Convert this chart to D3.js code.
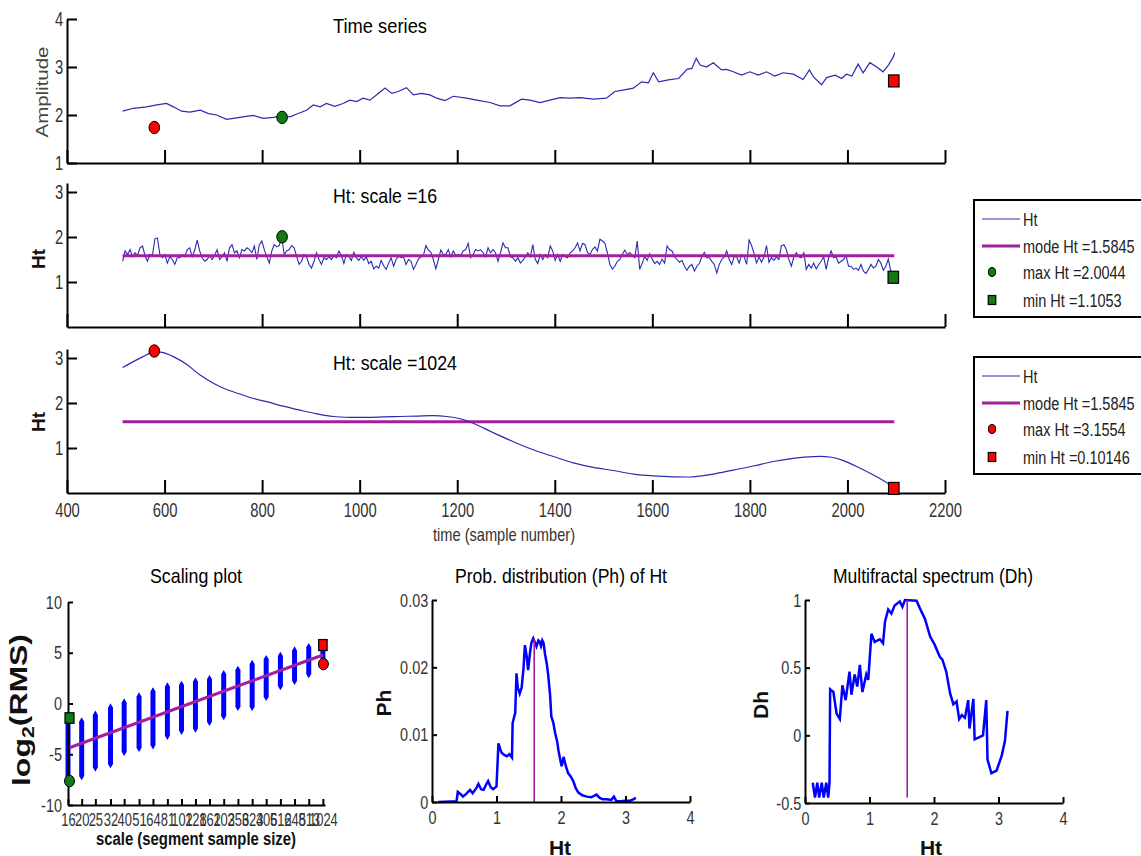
<!DOCTYPE html>
<html>
<head>
<meta charset="utf-8">
<script src="https://cdn.jsdelivr.net/npm/d3@7"></script>
<style>
body { margin: 0; background: #fff; }
svg { display: block; }
</style>
</head>
<body>
<svg id="fig" width="1141" height="856"></svg>
<script>
// ---- data ----
var timeTicks = [400, 600, 800, 1000, 1200, 1400, 1600, 1800, 2000, 2200];

// [sample, amplitude]
var timeSeries = [[514,2.08],[536,2.14],[563,2.17],[584,2.21],[604,2.24],[618,2.17],[635,2.08],[652,2.06],[673,2.10],[690,2.03],
  [707,2.00],[727,1.91],[741,1.93],[761,1.96],[782,1.99],[802,1.93],[823,1.95],[840,1.98],[857,1.96],[874,2.03],
  [891,2.10],[905,2.21],[919,2.17],[932,2.24],[949,2.18],[966,2.24],[980,2.31],[994,2.28],[1007,2.35],[1021,2.31],
  [1035,2.42],[1052,2.56],[1066,2.45],[1079,2.49],[1096,2.57],[1110,2.42],[1127,2.45],[1144,2.42],[1158,2.35],[1175,2.30],
  [1192,2.39],[1219,2.35],[1240,2.31],[1267,2.26],[1288,2.19],[1308,2.19],[1332,2.33],[1349,2.31],[1370,2.26],[1390,2.31],
  [1411,2.36],[1431,2.35],[1452,2.36],[1479,2.33],[1506,2.35],[1523,2.49],[1540,2.52],[1561,2.56],[1578,2.69],[1592,2.67],
  [1602,2.88],[1613,2.69],[1633,2.73],[1654,2.76],[1671,2.95],[1681,2.97],[1690,3.18],[1698,3.04],[1711,3.00],[1725,3.09],
  [1742,2.94],[1752,2.95],[1766,2.90],[1783,2.83],[1800,2.90],[1817,2.83],[1834,2.90],[1851,2.81],[1868,2.88],[1889,2.85],
  [1909,2.74],[1922,2.94],[1930,2.80],[1947,2.63],[1957,2.78],[1975,2.83],[1988,2.76],[1998,2.85],[2009,2.81],[2022,3.06],
  [2032,2.88],[2046,3.09],[2060,3.00],[2073,2.90],[2084,3.04],[2094,3.21],[2097,3.30]];
var tsRedCircle = [579, 1.74];
var tsGreenCircle = [841, 1.95];
var tsRedSquare = [2095, 2.71];

// Ht at scale 16, regular sampling from ht16Start to ht16End
var ht16Start = 514, ht16End = 2094;
var ht16 = [1.46,1.69,1.61,1.72,1.56,1.65,1.59,1.76,1.80,1.59, 1.46,1.61,1.59,1.96,1.98,1.61,1.54,1.61,1.42,1.56,
  1.50,1.39,1.54,1.54,1.61,1.56,1.72,1.76,1.56,1.71, 1.93,1.69,1.54,1.46,1.50,1.59,1.50,1.59,1.72,1.50,
  1.56,1.65,1.46,1.76,1.83,1.65,1.69,1.54,1.72,1.69, 1.76,1.72,1.65,1.80,1.50,1.83,1.91,1.72,1.56,1.42,
  1.69,1.83,1.78,1.81,2.00,1.61,1.69,1.72,1.81,1.76, 1.57,1.39,1.46,1.61,1.56,1.39,1.31,1.46,1.65,1.50,
  1.39,1.54,1.50,1.56,1.50,1.59,1.54,1.69,1.59,1.41, 1.61,1.56,1.48,1.66,1.54,1.48,1.56,1.48,1.56,1.41,
  1.46,1.29,1.35,1.31,1.48,1.36,1.28,1.42,1.54,1.35, 1.50,1.57,1.54,1.56,1.39,1.50,1.46,1.28,1.39,1.51,
  1.56,1.59,1.81,1.71,1.66,1.50,1.29,1.50,1.71,1.61, 1.61,1.72,1.56,1.69,1.59,1.61,
  1.59,1.69,1.72,1.86,1.54,1.61,1.72,1.69,1.72,1.65, 1.56,1.76,1.65,1.72,1.65,1.46,1.65,1.87,1.76,1.76,
  1.56,1.54,1.46,1.54,1.42,1.48,1.56,1.65,1.56,1.83, 1.50,1.41,1.61,1.50,1.61,1.54,1.80,1.69,1.48,1.61,
  1.46,1.61,1.56,1.54,1.65,1.69,1.76,1.87,1.69,1.86, 1.83,1.65,1.61,1.72,1.78,1.69,1.95,1.91,1.86,1.65,
  1.39,1.29,1.35,1.46,1.50,1.61,1.71,1.61,1.65,1.59, 1.54,1.91,1.28,1.42,1.56,1.48,1.63,1.51,1.41,1.46,
  1.39,1.51,1.42,1.80,1.72,1.69,1.56,1.50,1.44,1.48, 1.35,1.26,1.35,1.39,1.24,1.35,1.41,1.57,1.66,1.54,
  1.54,1.46,1.39,1.20,1.39,1.50,1.56,1.69,1.50,1.39, 1.57,1.56,1.42,1.61,1.56,1.39,1.93,1.81,1.63,1.42,
  1.56,1.44,1.56,1.81,1.44,1.54,1.48,1.56,1.50,1.81, 1.83,1.72,1.50,1.35,1.56,1.65,1.56,1.54,1.65,1.28,
  1.39,1.31,1.42,1.29,1.39,1.46,1.56,1.28,1.54,1.69, 1.54,1.56,1.42,1.46,1.50,1.59,1.35,1.35,1.28,1.31,
  1.26,1.39,1.24,1.19,1.28,1.39,1.31,1.35,1.50,1.42, 1.26,1.35,1.51,1.24,1.11];
var htMode = 1.5845;
var ht16Max = [841, 2.0044];
var ht16Min = [2094, 1.1053];

// Ht at scale 1024, [sample, Ht]
var ht1024 = [[514,2.79],[536,2.92],[556,3.03],[579,3.14],[597,3.12],[618,3.03],[645,2.86],[673,2.62],[700,2.44],[727,2.30],
  [755,2.20],[782,2.10],[809,2.03],[843,1.93],[878,1.84],[912,1.76],[946,1.70],[980,1.68],[1014,1.68],[1049,1.69],
  [1083,1.70],[1117,1.71],[1151,1.72],[1178,1.70],[1206,1.65],[1233,1.55],[1274,1.34],[1315,1.14],[1356,0.96],[1397,0.81],
  [1438,0.67],[1479,0.57],[1520,0.50],[1561,0.42],[1602,0.38],[1643,0.36],[1684,0.36],[1725,0.42],[1766,0.51],[1807,0.60],
  [1848,0.70],[1889,0.77],[1930,0.81],[1964,0.80],[1992,0.72],[2026,0.55],[2060,0.36],[2087,0.18],[2095,0.10]];
var ht1024Max = [579, 3.1554];
var ht1024Min = [2095, 0.10146];

var legend1Labels = ["Ht", "mode Ht =1.5845", "max Ht =2.0044", "min Ht =1.1053"];
var legend2Labels = ["Ht", "mode Ht =1.5845", "max Ht =3.1554", "min Ht =0.10146"];

// scaling plot
var scales = [16, 20, 25, 32, 40, 51, 64, 81, 102, 128, 161, 203, 256, 323, 406, 512, 645, 813, 1024];
var rmsLow  = [-7.70, -7.14, -6.29, -5.96, -4.75, -4.35, -4.09, -3.16, -2.67, -2.44, -1.79, -1.23, -0.31, -0.31, 0.67, 1.73, 2.25, 2.91, 3.89];
var rmsHigh = [-1.30, -1.79, -1.13, -0.41, 0.08, 0.67, 1.17, 1.66, 1.82, 2.15, 2.38, 2.87, 3.30, 3.89, 4.35, 4.68, 5.20, 5.53, 5.76];
var fitLine = [[16, -4.41], [1024, 4.78]];
var rmsGreenSquare = [16, -1.43], rmsGreenCircle = [16, -7.64];
var rmsRedSquare = [1024, 5.76], rmsRedCircle = [1024, 3.89];

// probability distribution Ph(Ht)
var ph = [[0.10,0],[0.38,0.0001],[0.40,0.0015],[0.44,0.0012],[0.48,0.0008],[0.53,0.0012],[0.59,0.0018],[0.63,0.0013],[0.69,0.0021],[0.72,0.0027],
  [0.76,0.0019],[0.80,0.0018],[0.84,0.0026],[0.87,0.0031],[0.91,0.0022],[0.95,0.0019],[1.00,0.0023],[1.03,0.0087],[1.06,0.0078],[1.08,0.0073],
  [1.12,0.0070],[1.16,0.0068],[1.20,0.0071],[1.24,0.0066],[1.25,0.0117],[1.27,0.0125],[1.29,0.0132],[1.31,0.0191],[1.33,0.0170],[1.36,0.0161],
  [1.39,0.0170],[1.42,0.0200],[1.44,0.0233],[1.47,0.0215],[1.49,0.0196],[1.52,0.0222],[1.54,0.0236],[1.57,0.0243],[1.60,0.0236],[1.62,0.0231],
  [1.65,0.0240],[1.67,0.0238],[1.69,0.0232],[1.71,0.0240],[1.73,0.0236],[1.75,0.0221],[1.78,0.0205],[1.80,0.0190],[1.83,0.0160],[1.85,0.0127],
  [1.88,0.0118],[1.91,0.0102],[1.94,0.0090],[1.96,0.0077],[1.99,0.0062],[2.01,0.0053],[2.04,0.0067],[2.07,0.0055],[2.11,0.0043],[2.15,0.0038],
  [2.19,0.0031],[2.23,0.0020],[2.27,0.0014],[2.33,0.0010],[2.40,0.0008],[2.47,0.0007],[2.55,0.0011],[2.60,0.0006],[2.65,0.0004],[2.71,0.0004],
  [2.78,0.0003],[2.82,0.0008],[2.86,0.0001],[2.92,0.0001],[3.00,0.0002],[3.07,0.0002],[3.12,0.0004],[3.16,0.0006]];
var phModeTop = 0.0243;

// multifractal spectrum Dh(Ht)
var dh = [[0.12,-0.35],[0.155,-0.46],[0.19,-0.35],[0.22,-0.46],[0.26,-0.35],[0.29,-0.46],[0.33,-0.35],[0.36,-0.46],[0.38,-0.35],[0.39,0.34],
  [0.44,0.32],[0.49,0.16],[0.54,0.12],[0.58,0.37],[0.63,0.26],[0.69,0.47],[0.72,0.30],[0.77,0.45],[0.81,0.36],[0.85,0.52],
  [0.89,0.32],[0.95,0.45],[0.98,0.41],[1.03,0.75],[1.08,0.69],[1.16,0.71],[1.21,0.68],[1.24,0.84],[1.29,0.93],[1.34,0.90],
  [1.39,0.96],[1.47,0.99],[1.51,0.95],[1.55,1.0],[1.73,0.995],[1.78,0.94],[1.86,0.86],[1.94,0.73],[2.01,0.67],[2.09,0.58],
  [2.13,0.56],[2.19,0.47],[2.25,0.31],[2.30,0.23],[2.35,0.25],[2.39,0.12],[2.43,0.15],[2.48,0.13],[2.53,0.26],[2.55,0.05],
  [2.61,0.27],[2.63,-0.03],[2.76,0.0],[2.81,0.26],[2.83,-0.18],[2.89,-0.28],[2.97,-0.26],[3.05,-0.15],[3.10,-0.04],[3.14,0.18]];
var dhModeRange = [-0.46, 1];

// ---- drawing ----
var FONT = "'Liberation Sans', Arial, sans-serif";
var BLUE_THIN = "#2b2bb0", BLUE = "#0000ff", MAGENTA = "#a020a0";
var RED = "#ff0000", GREEN = "#117a11";
var svg = d3.select("#fig");

// text helper: position, optional rotation and horizontal squeeze
function label(x, y, str, o) {
  o = o || {};
  var g = svg.append("g")
    .attr("transform", "translate(" + x + "," + y + ") rotate(" + (o.rotate || 0) + ") scale(" + (o.sx || 1) + ",1)");
  var t = g.append("text")
    .attr("font-family", FONT)
    .attr("font-size", o.size || 20)
    .attr("font-weight", o.weight || "normal")
    .attr("fill", o.fill || "#000")
    .attr("text-anchor", o.anchor || "middle")
    .attr("dy", o.dy || 0)
    .text(str);
  if (o.len) t.attr("textLength", o.len).attr("lengthAdjust", "spacingAndGlyphs");
  return t;
}

function styleAxis(g, size, sx) {
  g.attr("font-family", FONT).attr("font-size", size);
  g.select(".domain").attr("stroke", "#000").attr("stroke-width", 2);
  g.selectAll(".tick line").attr("stroke", "#000").attr("stroke-width", 2);
  g.selectAll(".tick text").attr("fill", "#333").attr("transform", "scale(" + sx + ",1)");
}

function circleMark(x, y, fill, rx, ry) {
  svg.append("ellipse").attr("cx", x).attr("cy", y).attr("rx", rx || 5.3).attr("ry", ry || 6.2)
    .attr("fill", fill).attr("stroke", "#000").attr("stroke-width", 1);
}
function squareMark(x, y, fill, w, h) {
  w = w || 10.5; h = h || 12;
  svg.append("rect").attr("x", x - w / 2).attr("y", y - h / 2).attr("width", w).attr("height", h)
    .attr("fill", fill).attr("stroke", "#000").attr("stroke-width", 1.2);
}

var xT = d3.scaleLinear().domain([400, 2200]).range([67, 945]);

function topPanel(yDomain, yRange, yTicks, showLabels) {
  var y = d3.scaleLinear().domain(yDomain).range(yRange);
  var gx = svg.append("g").attr("transform", "translate(0," + yRange[0] + ")")
    .call(d3.axisBottom(xT).tickValues(timeTicks).tickSizeInner(-13).tickSizeOuter(0).tickPadding(10)
      .tickFormat(showLabels ? d3.format("d") : function() { return ""; }));
  styleAxis(gx, 20, 0.74);
  var gy = svg.append("g").attr("transform", "translate(67,0)")
    .call(d3.axisLeft(y).tickValues(yTicks).tickSizeInner(-10).tickSizeOuter(0).tickPadding(5).tickFormat(d3.format("d")));
  styleAxis(gy, 20, 0.74);
  return y;
}

// panel 1: time series
var y1 = topPanel([1, 4], [163, 19], [1, 2, 3, 4], false);
svg.append("path").datum(timeSeries)
  .attr("fill", "none").attr("stroke", BLUE_THIN).attr("stroke-width", 1.2)
  .attr("d", d3.line().x(function(d) { return xT(d[0]); }).y(function(d) { return y1(d[1]); }));
circleMark(xT(tsRedCircle[0]), y1(tsRedCircle[1]), RED);
circleMark(xT(tsGreenCircle[0]), y1(tsGreenCircle[1]), GREEN);
squareMark(xT(tsRedSquare[0]), y1(tsRedSquare[1]), RED);
label(333, 33, "Time series", { anchor: "start", size: 21, len: 94 });
label(42, 92, "Amplitude", { rotate: -90, size: 16, len: 91, fill: "#444", dy: "0.35em" });

// panel 2: Ht scale 16
var y2 = topPanel([0, 3.2], [327, 183], [1, 2, 3], false);
var ht16Points = ht16.map(function(v, i) {
  return [ht16Start + i * (ht16End - ht16Start) / (ht16.length - 1), v];
});
svg.append("path").datum(ht16Points)
  .attr("fill", "none").attr("stroke", BLUE_THIN).attr("stroke-width", 1.1)
  .attr("d", d3.line().x(function(d) { return xT(d[0]); }).y(function(d) { return y2(d[1]); }));
svg.append("line")
  .attr("x1", xT(ht16Start)).attr("x2", xT(2096)).attr("y1", y2(htMode)).attr("y2", y2(htMode))
  .attr("stroke", MAGENTA).attr("stroke-width", 3);
circleMark(xT(ht16Max[0]), y2(ht16Max[1]), GREEN);
squareMark(xT(ht16Min[0]), y2(ht16Min[1]), GREEN);
label(333, 203, "Ht: scale =16", { anchor: "start", size: 21, len: 104 });
label(38.5, 259, "Ht", { rotate: -90, size: 19, weight: "bold", fill: "#111", dy: "0.36em" });

// panel 3: Ht scale 1024
var y3 = topPanel([0, 3.2], [493, 349], [1, 2, 3], true);
svg.append("line")
  .attr("x1", xT(514)).attr("x2", xT(2096)).attr("y1", y3(htMode)).attr("y2", y3(htMode))
  .attr("stroke", MAGENTA).attr("stroke-width", 3);
svg.append("path").datum(ht1024)
  .attr("fill", "none").attr("stroke", BLUE_THIN).attr("stroke-width", 1.2)
  .attr("d", d3.line().curve(d3.curveCatmullRom).x(function(d) { return xT(d[0]); }).y(function(d) { return y3(d[1]); }));
circleMark(xT(ht1024Max[0]), y3(ht1024Max[1]), RED);
squareMark(xT(ht1024Min[0]), y3(ht1024Min[1]), RED);
label(333, 370, "Ht: scale =1024", { anchor: "start", size: 21, len: 124 });
label(38.5, 422, "Ht", { rotate: -90, size: 19, weight: "bold", fill: "#111", dy: "0.36em" });
label(504, 541, "time (sample number)", { size: 19, len: 142, fill: "#333" });

// legends
function legend(top, labels, mColor) {
  svg.append("rect").attr("x", 974).attr("y", top).attr("width", 180).attr("height", 117)
    .attr("fill", "#fff").attr("stroke", "#000").attr("stroke-width", 2);
  var rows = [top + 19, top + 46, top + 72, top + 100];
  svg.append("line").attr("x1", 982).attr("x2", 1020).attr("y1", rows[0]).attr("y2", rows[0])
    .attr("stroke", BLUE_THIN).attr("stroke-width", 1.2);
  svg.append("line").attr("x1", 982).attr("x2", 1020).attr("y1", rows[1]).attr("y2", rows[1])
    .attr("stroke", MAGENTA).attr("stroke-width", 3);
  circleMark(992, rows[2], mColor, 3.6, 4.5);
  squareMark(992, rows[3], mColor, 7.5, 9);
  labels.forEach(function(s, i) {
    label(1023, rows[i] + 6.5, s, { anchor: "start", size: 18.6, sx: 0.78, fill: "#222" });
  });
}
legend(200, legend1Labels, GREEN);
legend(357, legend2Labels, RED);

// ---- bottom row ----
// scaling plot
var xS = d3.scaleLog().base(2).domain([16, 1060]).range([68, 325]);
var yS = d3.scaleLinear().domain([-10, 10]).range([805, 602]);
svg.append("g").selectAll("line").data(scales).enter().append("line")
  .attr("x1", function(d) { return xS(d); }).attr("x2", function(d) { return xS(d); })
  .attr("y1", function(d, i) { return yS(rmsLow[i]); }).attr("y2", function(d, i) { return yS(rmsHigh[i]); })
  .attr("stroke", BLUE).attr("stroke-width", 5);
svg.append("g").selectAll("path").data(scales.concat(scales)).enter().append("path")
  .attr("d", d3.symbol().type(d3.symbolDiamond).size(22))
  .attr("fill", BLUE)
  .attr("transform", function(d, i) {
    var v = i < scales.length ? rmsLow[i] : rmsHigh[i - scales.length];
    return "translate(" + xS(d) + "," + yS(v) + ")";
  });
svg.append("path").datum(fitLine)
  .attr("fill", "none").attr("stroke", MAGENTA).attr("stroke-width", 3)
  .attr("d", d3.line().x(function(d) { return xS(d[0]); }).y(function(d) { return yS(d[1]); }));
var gsx = svg.append("g").attr("transform", "translate(0,805)")
  .call(d3.axisBottom(xS).tickValues(scales).tickFormat(d3.format("d")).tickSizeInner(-6).tickSizeOuter(0).tickPadding(8));
styleAxis(gsx, 18, 0.72);
var gsy = svg.append("g").attr("transform", "translate(68,0)")
  .call(d3.axisLeft(yS).tickValues([-10, -5, 0, 5, 10]).tickFormat(String).tickSizeInner(-5).tickSizeOuter(0).tickPadding(8));
styleAxis(gsy, 19, 0.76);
squareMark(xS(rmsGreenSquare[0]) + 1.5, yS(rmsGreenSquare[1]), GREEN, 9, 10.5);
circleMark(xS(rmsGreenCircle[0]) + 1.5, yS(rmsGreenCircle[1]), GREEN, 5, 5.8);
squareMark(xS(rmsRedSquare[0]), yS(rmsRedSquare[1]), RED, 8.5, 11);
circleMark(xS(rmsRedCircle[0]) + 0.5, yS(rmsRedCircle[1]), RED, 5, 5.8);
label(196, 583, "Scaling plot", { size: 21, len: 92 });
label(196, 845, "scale (segment sample size)", { size: 18, weight: "bold", len: 200, fill: "#111" });
var lg = label(21, 710, "", { rotate: -90, size: 24, weight: "bold", fill: "#111", dy: "0.36em", len: 152 });
lg.append("tspan").text("log");
lg.append("tspan").attr("font-size", 16).attr("dy", "0.3em").text("2");
lg.append("tspan").attr("dy", "-0.3em").text("(RMS)");

// Ph distribution
var xP = d3.scaleLinear().domain([0, 4]).range([432, 690]);
var yP = d3.scaleLinear().domain([0, 0.03]).range([802, 600]);
svg.append("path").datum(ph)
  .attr("fill", "none").attr("stroke", BLUE).attr("stroke-width", 2.5)
  .attr("d", d3.line().x(function(d) { return xP(d[0]); }).y(function(d) { return yP(d[1]); }));
svg.append("line").attr("x1", xP(htMode)).attr("x2", xP(htMode)).attr("y1", yP(0)).attr("y2", yP(phModeTop))
  .attr("stroke", MAGENTA).attr("stroke-width", 1.6);
var gpx = svg.append("g").attr("transform", "translate(0,802)")
  .call(d3.axisBottom(xP).tickValues([0, 1, 2, 3, 4]).tickFormat(String).tickSizeInner(-6).tickSizeOuter(0).tickPadding(9));
styleAxis(gpx, 19, 0.76);
var gpy = svg.append("g").attr("transform", "translate(432,0)")
  .call(d3.axisLeft(yP).tickValues([0, 0.01, 0.02, 0.03]).tickFormat(String).tickSizeInner(-5).tickSizeOuter(0).tickPadding(5));
styleAxis(gpy, 19, 0.76);
label(561, 583, "Prob. distribution (Ph) of Ht", { size: 21, len: 212 });
label(383, 703, "Ph", { rotate: -90, size: 21, weight: "bold", fill: "#111", dy: "0.36em" });
label(560, 855, "Ht", { size: 21, weight: "bold", fill: "#111" });

// Dh spectrum
var xD = d3.scaleLinear().domain([0, 4]).range([805, 1063]);
var yD = d3.scaleLinear().domain([-0.5, 1]).range([803, 600]);
svg.append("path").datum(dh)
  .attr("fill", "none").attr("stroke", BLUE).attr("stroke-width", 2.5)
  .attr("d", d3.line().x(function(d) { return xD(d[0]); }).y(function(d) { return yD(d[1]); }));
svg.append("line").attr("x1", xD(htMode)).attr("x2", xD(htMode)).attr("y1", yD(dhModeRange[0])).attr("y2", yD(dhModeRange[1]))
  .attr("stroke", MAGENTA).attr("stroke-width", 1.6);
var gdx = svg.append("g").attr("transform", "translate(0,803)")
  .call(d3.axisBottom(xD).tickValues([0, 1, 2, 3, 4]).tickFormat(String).tickSizeInner(-6).tickSizeOuter(0).tickPadding(9));
styleAxis(gdx, 19, 0.76);
var gdy = svg.append("g").attr("transform", "translate(805,0)")
  .call(d3.axisLeft(yD).tickValues([-0.5, 0, 0.5, 1]).tickFormat(String).tickSizeInner(-5).tickSizeOuter(0).tickPadding(5));
styleAxis(gdy, 19, 0.76);
label(933, 583, "Multifractal spectrum (Dh)", { size: 21, len: 200 });
label(760, 705, "Dh", { rotate: -90, size: 21, weight: "bold", fill: "#111", dy: "0.36em" });
label(931, 855, "Ht", { size: 21, weight: "bold", fill: "#111" });
</script>
</body>
</html>
